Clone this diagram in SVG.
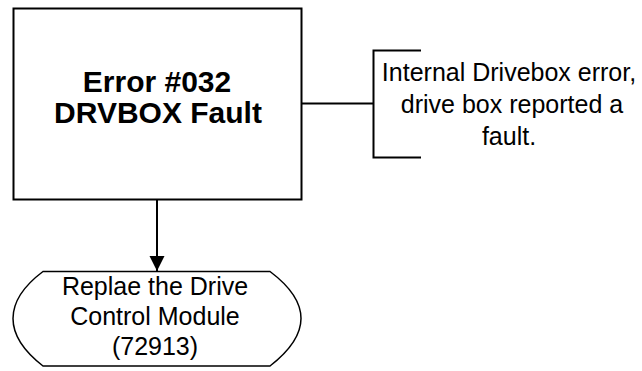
<svg xmlns="http://www.w3.org/2000/svg" width="642" height="371" viewBox="0 0 642 371">
<style>
.ln{stroke:#000;stroke-width:2;fill:none}
.t{font-family:"Liberation Sans",Arial,sans-serif;fill:#000;text-anchor:middle}
.b{font-weight:bold;font-size:30px}
.n{font-size:25px}
</style>
<defs>
<marker id="ah" markerUnits="userSpaceOnUse" markerWidth="16" markerHeight="16" refX="15" refY="8" orient="auto">
<path d="M0,0.5 L15,8 L0,15.5 Z" fill="#000"/>
</marker>
</defs>
<rect width="642" height="371" fill="#fff"/>
<g id="connectors">
<line class="ln" x1="157" y1="200" x2="157" y2="271" marker-end="url(#ah)"/>
<line class="ln" x1="302" y1="103.5" x2="373" y2="103.5"/>
</g>
<g id="error-box">
<rect class="ln" x="13.5" y="8.5" width="288" height="191"/>
<text class="t b" x="157" y="92">Error #032</text>
<text class="t b" x="158" y="123">DRVBOX Fault</text>
</g>
<g id="annotation">
<path class="ln" d="M421,50.5 H373.5 V157.5 H421"/>
<text class="t n" x="509" y="81">Internal Drivebox error,</text>
<text class="t n" x="512" y="113">drive box reported a</text>
<text class="t n" x="509" y="145">fault.</text>
</g>
<g id="action">
<path d="M43,271.5 H270 C288,285 301,300 301,318.5 C301,337 288,352 270,366 H43 C25,352 13,337 13,318.5 C13,300 25,285 43,271.5 Z" fill="#fff" stroke="#000" stroke-width="1.5"/>
<text class="t n" x="155" y="295">Replae the Drive</text>
<text class="t n" x="155" y="325">Control Module</text>
<text class="t n" x="155" y="355">(72913)</text>
</g>
</svg>
